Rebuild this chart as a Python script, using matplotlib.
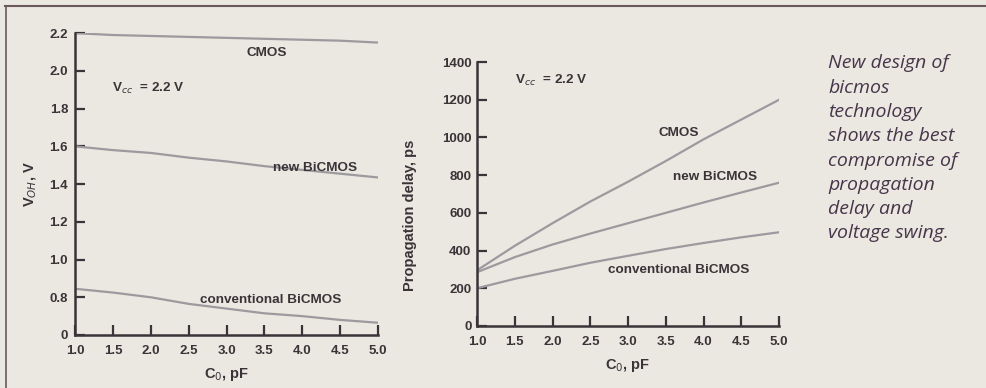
import matplotlib
matplotlib.use("Agg")
import matplotlib.pyplot as plt
from matplotlib.lines import Line2D

# load capacitance, pF
cap = [1.0, 1.5, 2.0, 2.5, 3.0, 3.5, 4.0, 4.5, 5.0]

# left chart: output high voltage, V
voh_cmos = [2.20, 2.19, 2.185, 2.18, 2.175, 2.17, 2.165, 2.16, 2.15]
voh_new = [1.60, 1.58, 1.565, 1.54, 1.52, 1.495, 1.475, 1.455, 1.435]
voh_conv = [0.845, 0.825, 0.80, 0.765, 0.74, 0.715, 0.70, 0.68, 0.665]

# right chart: propagation delay, ps
tpd_cmos = [295, 425, 545, 660, 765, 875, 990, 1095, 1200]
tpd_new = [285, 365, 432, 490, 545, 600, 655, 708, 760]
tpd_conv = [200, 250, 292, 335, 372, 408, 440, 470, 497]

left_yticks = [0.6, 0.8, 1.0, 1.2, 1.4, 1.6, 1.8, 2.0, 2.2]
left_ylabels = ["0", "0.8", "1.0", "1.2", "1.4", "1.6", "1.8", "2.0", "2.2"]
right_yticks = [0, 200, 400, 600, 800, 1000, 1200, 1400]
xtick_labels = ["1.0", "1.5", "2.0", "2.5", "3.0", "3.5", "4.0", "4.5", "5.0"]

caption = ("New design of\nbicmos\ntechnology\nshows the best\n"
           "compromise of\npropagation\ndelay and\nvoltage swing.")

bg = "#ebe7e1"
ink = "#3a3438"
curve = "#9c9a9e"

plt.rcParams["font.family"] = ["Liberation Sans", "DejaVu Sans"]

fig = plt.figure(figsize=(9.87, 3.88), dpi=100, facecolor=bg)

ax1 = fig.add_axes([0.076, 0.1366, 0.307, 0.778])
ax2 = fig.add_axes([0.4833, 0.16, 0.306, 0.680])

for ax in (ax1, ax2):
    ax.set_facecolor(bg)
    for s in ("top", "right"):
        ax.spines[s].set_visible(False)
    for s in ("left", "bottom"):
        ax.spines[s].set_color(ink)
        ax.spines[s].set_linewidth(1.8)
    ax.tick_params(direction="in", length=7, width=1.6, color=ink,
                   labelcolor=ink, labelsize=9.5, pad=4)
    ax.tick_params(axis="x", pad=7)
    ax.set_xlim(1.0, 5.0)
    ax.set_xticks(cap)
    ax.set_xticklabels(xtick_labels, fontweight="bold")

lab = dict(color=ink, fontsize=9.7, fontweight="bold", va="center")

# left chart
ax1.plot(cap, voh_cmos, color=curve, lw=1.6)
ax1.plot(cap, voh_new, color=curve, lw=1.6)
ax1.plot(cap, voh_conv, color=curve, lw=1.6)
ax1.set_ylim(0.6, 2.2)
ax1.set_yticks(left_yticks)
ax1.set_yticklabels(left_ylabels, fontweight="bold")
ax1.tick_params(axis="y", pad=5)
ax1.set_xlabel("C$_0$, pF", color=ink, fontsize=10.5, fontweight="bold", labelpad=7)
ax1.set_ylabel("V$_{OH}$, V", color=ink, fontsize=10.5, fontweight="bold")
ax1.yaxis.set_label_coords(-0.12, 0.5)
ax1.text(1.49, 1.905, "V$_{cc}$  = 2.2 V", **lab)
ax1.text(3.27, 2.094, "CMOS", **lab)
ax1.text(3.61, 1.485, "new BiCMOS", **lab)
ax1.text(2.65, 0.785, "conventional BiCMOS", **lab)

# right chart
ax2.plot(cap, tpd_cmos, color=curve, lw=1.6)
ax2.plot(cap, tpd_new, color=curve, lw=1.6)
ax2.plot(cap, tpd_conv, color=curve, lw=1.6)
ax2.set_ylim(0, 1400)
ax2.set_yticks(right_yticks)
ax2.set_yticklabels([str(v) for v in right_yticks], fontweight="bold")
ax2.set_xlabel("C$_0$, pF", color=ink, fontsize=10.5, fontweight="bold", labelpad=7)
ax2.set_ylabel("Propagation delay, ps", color=ink, fontsize=10.5, fontweight="bold")
ax2.yaxis.set_label_coords(-0.2, 0.42)
ax2.text(1.5, 1300, "V$_{cc}$  = 2.2 V", **lab)
ax2.text(3.4, 1023, "CMOS", **lab)
ax2.text(3.6, 790, "new BiCMOS", **lab)
ax2.text(2.74, 297, "conventional BiCMOS", **lab)

fig.text(0.839, 0.86, caption, color="#46364a", fontsize=14, style="italic",
         va="top", ha="left", linespacing=1.45, family=["Open Sans", "DejaVu Sans"])

# page frame lines of the scan
fig.add_artist(Line2D([0.005, 1.0], [0.985, 0.985], color="#6a5a5a", lw=1.5))
fig.add_artist(Line2D([0.006, 0.006], [0.0, 0.985], color="#6a5a5a", lw=1.2))

fig.savefig("out.png", dpi=100, facecolor=bg)
